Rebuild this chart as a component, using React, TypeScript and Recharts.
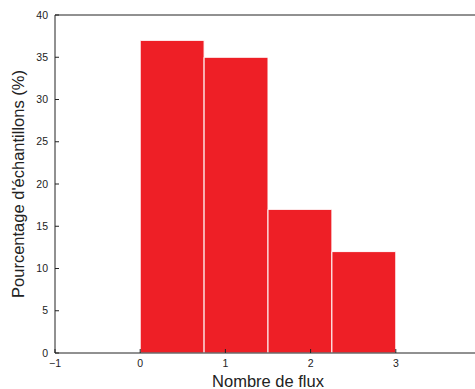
import React from 'react';
import { ComposedChart, XAxis, YAxis, Line, ReferenceArea, Label } from 'recharts';

// Histogram bins (number of flows) and sample percentages
const binStarts = [0, 0.75, 1.5, 2.25];
const binEnds = [0.75, 1.5, 2.25, 3];
const percentages = [37, 35, 17, 12];

const xTicks = [-1, 0, 1, 2, 3];
const yTicks = [0, 5, 10, 15, 20, 25, 30, 35, 40];
const xDomain = [-1, 4];
const yDomain = [0, 40];

const xLabel = 'Nombre de flux';
const yLabel = "Pourcentage d'échantillons (%)";

const data = binStarts.map((s, i) => ({ mid: (s + binEnds[i]) / 2, pct: percentages[i] }));

const FONT = '"Liberation Sans", Arial, Helvetica, sans-serif';
const AXIS = '#222';
const BAR = '#ee1f26';

const fmt = (v: number) => String(v).replace('-', '\u2212');

export default function App() {
  return (
    <div
      style={{
        position: 'fixed',
        left: 8,
        top: 8,
        width: 467,
        height: 381,
        overflow: 'hidden',
        background: '#fff',
        fontFamily: FONT,
      }}
    >
      <ComposedChart
        width={475}
        height={381}
        data={data}
        margin={{ top: 6, right: 2, bottom: 0, left: 0 }}
      >
        <XAxis
          dataKey="mid"
          type="number"
          domain={xDomain}
          ticks={xTicks}
          interval={0}
          allowDataOverflow
          height={36}
          tickSize={-4}
          tickMargin={11}
          tickFormatter={fmt}
          stroke={AXIS}
          tick={{ fontSize: 10.5, fill: AXIS, fontFamily: FONT }}
        >
          <Label
            content={({ viewBox }: any) => (
              <text
                x={viewBox.x + viewBox.width / 2}
                y={379}
                textAnchor="middle"
                fontSize={16.5}
                fill={AXIS}
                fontFamily={FONT}
              >
                {xLabel}
              </text>
            )}
          />
        </XAxis>
        <XAxis
          xAxisId="top"
          orientation="top"
          type="number"
          domain={xDomain}
          ticks={xTicks}
          interval={0}
          allowDataOverflow
          height={1}
          tickSize={-4}
          tick={false}
          stroke={AXIS}
        />
        <YAxis
          type="number"
          domain={yDomain}
          ticks={yTicks}
          interval={0}
          width={47}
          tickSize={-4}
          tickMargin={11}
          stroke={AXIS}
          tick={{ fontSize: 10.5, fill: AXIS, fontFamily: FONT }}
        >
          <Label
            content={({ viewBox }: any) => {
              const cy = viewBox.y + viewBox.height / 2;
              return (
                <text
                  x={16}
                  y={cy}
                  transform={`rotate(-90, 16, ${cy})`}
                  textAnchor="middle"
                  fontSize={16.5}
                  fill={AXIS}
                  fontFamily={FONT}
                >
                  {yLabel}
                </text>
              );
            }}
          />
        </YAxis>
        {binStarts.map((s, i) => (
          <ReferenceArea
            key={i}
            x1={s}
            x2={binEnds[i]}
            y1={0}
            y2={percentages[i]}
            fill={BAR}
            fillOpacity={1}
            stroke="#ffffff"
            strokeWidth={1}
            ifOverflow="visible"
          />
        ))}
        <Line
          xAxisId={0}
          dataKey="pct"
          stroke="none"
          dot={false}
          activeDot={false}
          isAnimationActive={false}
          legendType="none"
        />
        <Line
          xAxisId="top"
          dataKey="pct"
          stroke="none"
          dot={false}
          activeDot={false}
          isAnimationActive={false}
          legendType="none"
        />
      </ComposedChart>
    </div>
  );
}
